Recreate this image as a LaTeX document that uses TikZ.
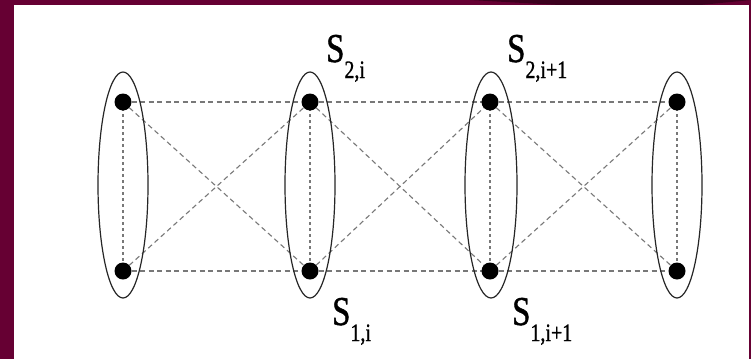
\documentclass[tikz,border=0pt]{standalone}
\usepackage{graphicx}
\usepackage{fontspec}
\setmainfont{Liberation Serif}
\newfontfamily\labfont[FakeBold=1.2]{Liberation Serif}
\usetikzlibrary{shapes.geometric,backgrounds}
\definecolor{maroon}{RGB}{102,0,51}
\definecolor{darkmaroon}{RGB}{60,0,30}
\definecolor{linegray}{RGB}{120,120,120}
\tikzset{
  dot/.style={circle,fill=black,inner sep=0pt,minimum size=17pt},
  group/.style={ellipse,draw=black!85,line width=1.2pt,inner sep=0pt,minimum width=50pt,minimum height=226pt},
  hlink/.style={draw=linegray,line width=1.4pt,dash pattern=on 5pt off 3.5pt},
  vlink/.style={draw=linegray,line width=1.6pt,dash pattern=on 3pt off 3pt},
  xlink/.style={draw=linegray,line width=1.1pt,dash pattern=on 5pt off 3.5pt},
  lab/.style={anchor=base west,inner sep=0pt,font=\labfont\fontsize{41}{41}\selectfont}
}
\newcommand{\sublab}[1]{\scalebox{0.8}[1]{S\raisebox{-16pt}{\fontsize{25}{25}\selectfont #1}}}
\begin{document}
\begin{tikzpicture}[x=1pt,y=-1pt]
\useasboundingbox (0,0) rectangle (751,359);
\node[group] (e1) at (123,185) {};
\node[group] (e2) at (310,185) {};
\node[group,minimum width=52pt] (e3) at (491,185) {};
\node[group] (e4) at (677,185) {};
\node[dot] (t1) at (123,102) {};
\node[dot] (t2) at (310,102) {};
\node[dot] (t3) at (490,102) {};
\node[dot] (t4) at (677,102) {};
\node[dot] (b1) at (123,271) {};
\node[dot] (b2) at (310,271) {};
\node[dot] (b3) at (490,271) {};
\node[dot] (b4) at (677,271) {};
\node[lab] (l2i) at (326,62) {\sublab{2,i}};
\node[lab] (l2ip) at (507,62) {\sublab{2,i+1}};
\node[lab] (l1i) at (332,325) {\sublab{1,i}};
\node[lab] (l1ip) at (512,325) {\sublab{1,i+1}};
\begin{pgfonlayer}{background}
\fill[maroon] (0,0) rectangle (751,359);
\fill[darkmaroon] (470,0) -- (560,5) -- (700,5) -- (751,0) -- cycle;
\fill[white] (14,5) rectangle (749,359);
\foreach \a/\b in {1/2,2/3,3/4}{
  \path[hlink] (t\a.center) -- (t\b.center);
  \path[hlink] (b\a.center) -- (b\b.center);
  \path[xlink] (t\a.center) -- (b\b.center);
  \path[xlink] (b\a.center) -- (t\b.center);
}
\foreach \a in {1,2,3,4}{
  \path[vlink] (t\a.center) -- (b\a.center);
}
\end{pgfonlayer}
\end{tikzpicture}
\end{document}
